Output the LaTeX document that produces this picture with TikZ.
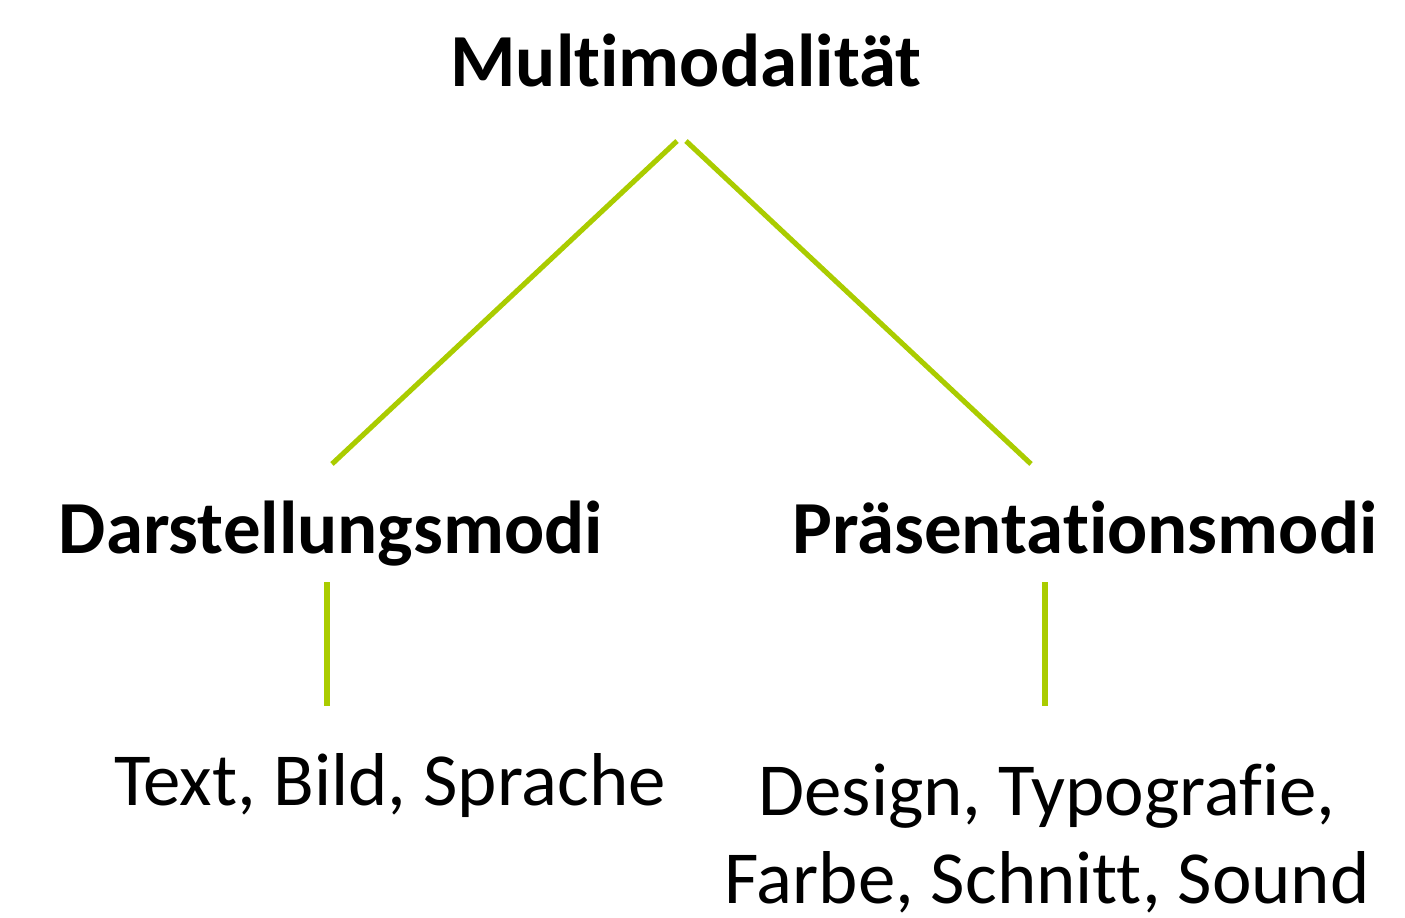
\documentclass[tikz,border=0pt]{standalone}
\usepackage{fontspec}
\setmainfont{Carlito}[Ligatures=NoCommon]
\definecolor{lime}{HTML}{AACC00}
\begin{document}
\begin{tikzpicture}[x=0.01cm,y=-0.01cm,
  lbl/.style={inner sep=0pt,anchor=base,font=\fontsize{21.3pt}{25pt}\selectfont},
  head/.style={lbl,font=\fontsize{21.3pt}{25pt}\selectfont\bfseries},
  link/.style={draw=lime,line width=1.45pt}]
\useasboundingbox (0,0) rectangle (1405,918);
\node[head] (top) at (686,87) {Multimodalität};
\node[head] (dar) at (331,553) {Darstellungsmodi};
\node[head] (pra) at (1085,553) {Präsentationsmodi};
\node[lbl] (tbs) at (390,805) {Text, Bild, Sprache};
\node[lbl,align=center,font=\fontsize{21.3pt}{25pt}\selectfont] (dts) at (1047,903) {Design, Typografie,\\Farbe, Schnitt, Sound};
\coordinate (t1) at (677,141);
\coordinate (t2) at (686,141);
\coordinate (d1) at (332,464);
\coordinate (p1) at (1031,464);
\coordinate (d2) at (327,582);
\coordinate (d3) at (327,706);
\coordinate (p2) at (1045,582);
\coordinate (p3) at (1045,706);
\draw[link] (t1) -- (d1);
\draw[link] (t2) -- (p1);
\draw[link] (d2) -- (d3);
\draw[link] (p2) -- (p3);
\end{tikzpicture}
\end{document}
